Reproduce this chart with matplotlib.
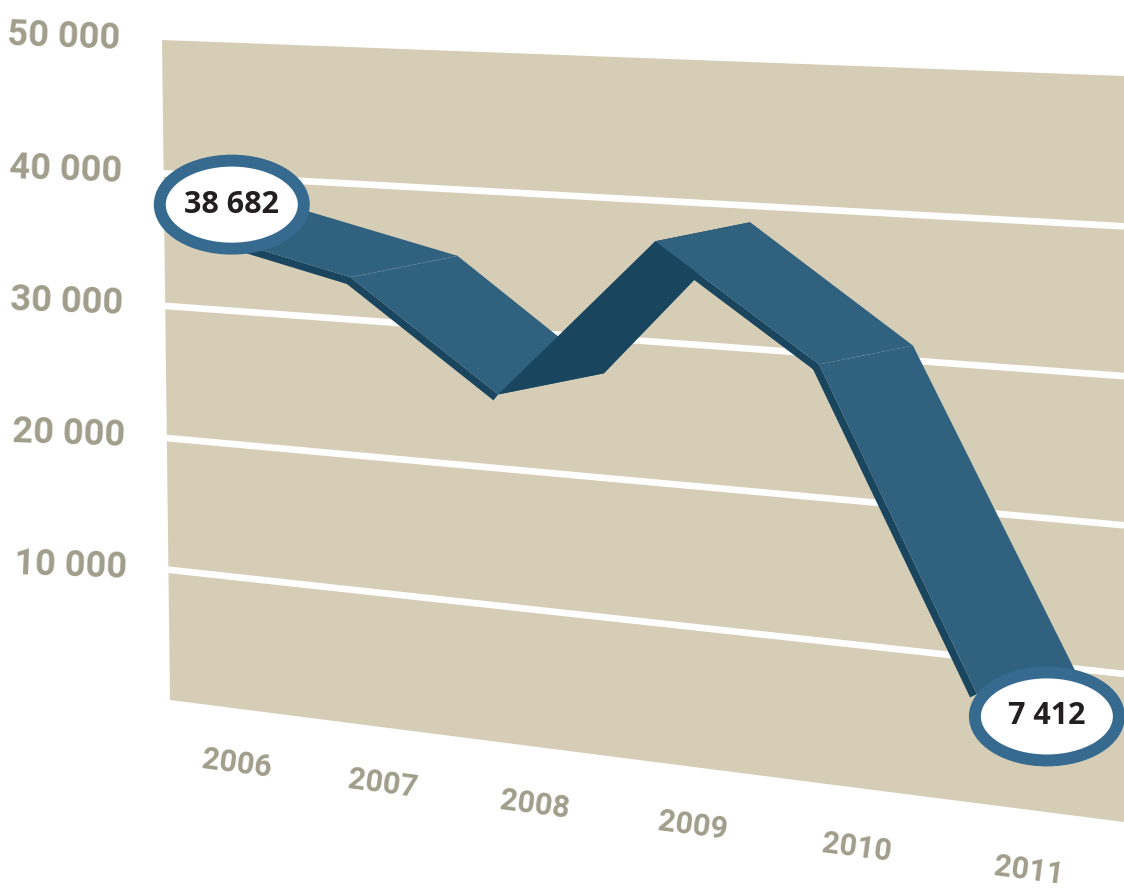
import numpy as np
from matplotlib import pyplot as plt
from matplotlib.patches import Ellipse, Polygon

years = ['2006', '2007', '2008', '2009', '2010', '2011']
values = [35700, 33080, 25320, 37100, 29250, 7500]
depth = [1.05, 1.07, 1.06, 0.95, 0.94, 1.0]
grid_values = [10000, 20000, 30000, 40000]
tick_values = [10000, 20000, 30000, 40000, 50000]
tick_labels = ['10 000', '20 000', '30 000', '40 000', '50 000']
callouts = [(0, 38682, '38 682'), (5, 7412, '7 412')]

wall_color = '#D5CDB6'
ribbon_color = '#30617F'
dark_color = '#19455F'
ring_color = '#366A8F'
label_color = '#A09D8B'
t_left, t_right = -0.28, 5.85
year_pos = [0, 1.03, 2.02, 3.045, 4.06, 5]
depth_vec = np.array([100, -20])
callout_shift = {0: (29, 12), 5: (70, 21)}

# perspective of the back wall, (year index, value) -> pixels
src = [(t_left, 50000), (t_left, 0), (t_right, 50000), (t_right, 0)]
dst = [(162, 40), (170, 700), (1124, 76), (1124, 822)]
A, b = [], []
for (u, v), (x, y) in zip(src, dst):
    v = v / 1000
    A.append([u, v, 1, 0, 0, 0, -u * x, -v * x])
    A.append([0, 0, 0, u, v, 1, -u * y, -v * y])
    b += [x, y]
H = np.append(np.linalg.solve(np.array(A, float), np.array(b, float)), 1).reshape(3, 3)


def project(t, val):
    p = H @ np.array([t, val / 1000, 1])
    return p[:2] / p[2]


fig = plt.figure(figsize=(11.24, 8.9), dpi=100)
ax = fig.add_axes([0, 0, 1, 1])
ax.set_xlim(0, 1124)
ax.set_ylim(890, 0)
ax.axis('off')

corners = [project(t_left, 50000), project(t_right, 50000), project(t_right, 0), project(t_left, 0)]
ax.add_patch(Polygon(corners, color=wall_color, lw=0, zorder=1))
for g in grid_values:
    p0, p1 = project(t_left, g), project(t_right, g)
    ax.plot([p0[0] - 8, p1[0]], [p0[1], p1[1]], color='white', lw=4.8, zorder=2, solid_capstyle='butt')

front = np.array([project(year_pos[i], val) for i, val in enumerate(values)])
back = front + np.outer(depth, depth_vec)

for i in range(len(years) - 1):
    if i == 2:
        face = dark_color
    else:
        face = ribbon_color
        d = front[i + 1] - front[i]
        n = np.array([-d[1], d[0]]) / np.hypot(*d) * 7.5
        if n[1] < 0:
            n = -n
        ax.add_patch(Polygon([front[i], front[i + 1], front[i + 1] + n, front[i] + n],
                             color=dark_color, lw=0, zorder=3 + i))
    ax.add_patch(Polygon([front[i], front[i + 1], back[i + 1], back[i]],
                         color=face, lw=0, zorder=3 + i))
ax.plot([front[1][0], back[1][0]], [front[1][1], back[1][1]], color='#5A8199', lw=0.7, ls=(0, (1, 1)), zorder=6)

for t, val, txt in callouts:
    c = project(t, val) + callout_shift[t]
    ax.add_patch(Ellipse(c, 144, 88, facecolor='white', edgecolor=ring_color, lw=8.6, zorder=10))
    ax.text(c[0], c[1], txt, family='Open Sans', weight='bold', fontsize=22, color='#231F20',
            ha='center', va='center', zorder=11)

for val, txt in zip(tick_values, tick_labels):
    px = project(-1.0, val)[0]
    py = project(t_left, val)[1] - 3
    ax.text(px, py, txt, family='Roboto', weight='bold', fontsize=26, color=label_color,
            ha='center', va='center', rotation=-2, rotation_mode='anchor')

for i, yr in enumerate(years):
    p = project(i * 1.02 + 0.2, -4200)
    ax.text(p[0], p[1], yr, family='Roboto', weight='bold', fontsize=22, color=label_color,
            ha='center', va='center', rotation=-7.5, rotation_mode='anchor')

fig.savefig('out.png', dpi=100)
